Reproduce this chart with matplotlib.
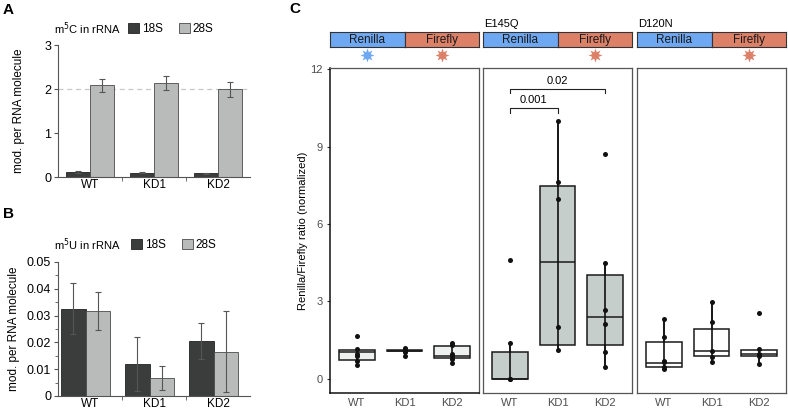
import matplotlib
matplotlib.use("Agg")
import matplotlib.pyplot as plt
from matplotlib.patches import Patch
import numpy as np

plt.rcParams['font.family'] = ['Liberation Sans', 'DejaVu Sans']

# ---------------- data ----------------
groups = ["WT", "KD1", "KD2"]
m5c_18s = [0.12, 0.10, 0.08]
m5c_18s_err = [0.02, 0.02, 0.015]
m5c_28s = [2.08, 2.13, 1.99]
m5c_28s_err = [0.14, 0.16, 0.18]

m5u_18s = [0.0326, 0.0121, 0.0205]
m5u_18s_err = [0.0095, 0.0101, 0.0067]
m5u_28s = [0.0317, 0.0067, 0.0166]
m5u_28s_err = [0.0071, 0.0046, 0.0150]

panel_titles = ["", "E145Q", "D120N"]
# box statistics per panel: (q1, median, q3, whisker low, whisker high)
box_q1 = [[0.74, 1.06, 0.80], [0.00, 1.33, 1.33], [0.44, 0.87, 0.87]]
box_med = [[1.03, 1.08, 0.90], [0.00, 4.53, 2.41], [0.61, 1.07, 0.98]]
box_q3 = [[1.11, 1.13, 1.27], [1.04, 7.49, 4.04], [1.42, 1.94, 1.11]]
box_lo = [[0.52, 0.90, 0.61], [0.00, 1.10, 0.44], [0.38, 0.61, 0.59]]
box_hi = [[1.11, 1.20, 1.40], [1.40, 10.00, 4.50], [2.33, 2.99, 1.16]]
points = [
    [[1.66, 1.16, 0.98, 0.90, 0.68, 0.52],
     [1.20, 1.15, 1.10, 1.08, 1.05, 0.90],
     [1.40, 1.30, 0.98, 0.87, 0.77, 0.61]],
    [[4.59, 1.40, 0.00, 0.00],
     [10.00, 7.63, 6.98, 2.01, 1.10],
     [8.70, 4.50, 2.67, 2.14, 1.04, 0.44]],
    [[2.33, 1.63, 0.70, 0.64, 0.46, 0.38],
     [2.99, 2.20, 1.07, 0.83, 0.64],
     [2.54, 1.16, 0.98, 0.90, 0.59]],
]
box_colors = ["#eef0ef", "#c5cecb", "#ffffff"]
stars = [["#6fa8f2", "#dd8068"], [None, "#dd8068"], [None, "#dd8068"]]
pvals = ["0.001", "0.02"]
pval_pairs = [(1, 2), (1, 3)]
pval_y = [10.50, 11.25]

# ---------------- figure ----------------
W, H = 788, 409
fig = plt.figure(figsize=(W / 100, H / 100), dpi=100)

def fx(px):
    return px / W

def fy(py):
    return 1 - py / H

c18 = "#3b3d3d"
c28 = "#b9bbbb"
edge = "#4a4a4a"
fs = 8

def bar_panel(ax, v18, e18, v28, e28, ylim, yticks, ytl, shift):
    x = np.arange(len(groups))
    w = 0.38
    ax.bar(x - w / 2 + shift, v18, w, color=c18, edgecolor="#222222", lw=0.6,
           yerr=e18, error_kw=dict(ecolor="#555555", lw=0.8, capsize=2.5, capthick=0.8), zorder=2)
    ax.bar(x + w / 2 + shift, v28, w, color=c28, edgecolor=edge, lw=0.6,
           yerr=e28, error_kw=dict(ecolor="#555555", lw=0.8, capsize=2.5, capthick=0.8), zorder=2)
    ax.set_xlim(-0.5, 2.5)
    ax.set_ylim(*ylim)
    ax.set_yticks(yticks)
    ax.set_yticklabels(ytl, fontsize=fs + 1)
    ax.set_xticks(x)
    ax.set_xticklabels(groups, fontsize=fs + 0.5)
    ax.tick_params(axis="x", length=0, pad=1.5)
    ax.set_xticks([0.5, 1.5], minor=True)
    ax.tick_params(axis="x", which="minor", length=3, color="#555555")
    ax.tick_params(axis="y", length=3, color="#555555", pad=2)
    for s in ["top", "right"]:
        ax.spines[s].set_visible(False)
    ax.spines["left"].set_color("#555555")
    ax.spines["bottom"].set_color("#555555")
    ax.set_ylabel("mod. per RNA molecule", fontsize=fs + 0.5, labelpad=4)

# Panel A
axA = fig.add_axes([fx(58), fy(177), fx(192), fy(45) - fy(177)])
bar_panel(axA, m5c_18s, m5c_18s_err, m5c_28s, m5c_28s_err, (0, 3), [0, 1, 2, 3],
          ["0", "1", "2", "3"], 0.0)
axA.axhline(2.0, color="#c8c8c8", ls=(0, (4, 3)), lw=0.9, zorder=1)
axA.yaxis.set_label_coords(-0.17, 0.5)

# Panel B
axB = fig.add_axes([fx(58), fy(396), fx(192), fy(262) - fy(396)])
bar_panel(axB, m5u_18s, m5u_18s_err, m5u_28s, m5u_28s_err, (0, 0.05),
          [0, 0.01, 0.02, 0.03, 0.04, 0.05],
          ["0", "0.01", "0.02", "0.03", "0.04", "0.05"], -0.07)
axB.set_yticks(np.arange(0.005, 0.05, 0.01), minor=True)
axB.tick_params(axis="y", which="minor", length=2, color="#555555")
axB.yaxis.set_label_coords(-0.20, 0.5)

# legends for A and B
for ytop, lab, lx in [(29, "m$^5$C in rRNA", 128), (245, "m$^5$U in rRNA", 131)]:
    fig.text(fx(54), fy(ytop), lab, fontsize=fs, va="center", ha="left")
    handles = [Patch(facecolor=c18, edgecolor="#222222", lw=0.6, label="18S"),
               Patch(facecolor=c28, edgecolor=edge, lw=0.6, label="28S")]
    fig.legend(handles=handles, loc="center left", bbox_to_anchor=(fx(lx), fy(ytop)),
               ncol=2, frameon=False, fontsize=fs + 0.5, handlelength=0.9, handleheight=0.9,
               handletextpad=0.25, columnspacing=1.4, borderaxespad=0, borderpad=0)

# Panel labels
fig.text(fx(3), fy(10), "A", fontsize=11, fontweight="bold", va="center")
fig.text(fx(3), fy(214), "B", fontsize=11, fontweight="bold", va="center")
fig.text(fx(289), fy(9), "C", fontsize=11, fontweight="bold", va="center")

# Panel C
lefts = [330, 483, 637]
pw = 149
for i in range(3):
    ax = fig.add_axes([fx(lefts[i]), fy(393), fx(pw), fy(68) - fy(393)])
    pos = [1, 2, 3]
    stats = []
    for j in range(3):
        stats.append(dict(q1=box_q1[i][j], med=box_med[i][j], q3=box_q3[i][j],
                          whislo=box_lo[i][j], whishi=box_hi[i][j], fliers=[]))
    ax.bxp(stats, positions=pos, widths=0.75, patch_artist=True, showfliers=False,
           showcaps=False,
           boxprops=dict(facecolor=box_colors[i], edgecolor="#1a1a1a", lw=1.1),
           medianprops=dict(color="#1a1a1a", lw=1.1),
           whiskerprops=dict(color="#1a1a1a", lw=1.1))
    for j in range(3):
        ax.vlines(pos[j], box_lo[i][j], box_hi[i][j], color="#111111", lw=1.2, zorder=3)
        pts = points[i][j]
        ax.scatter([pos[j]] * len(pts), pts, s=13, color="#111111", zorder=4, lw=0)
    ax.set_xlim(0.43, 3.57)
    ax.set_ylim(-0.55, 12.05)
    ax.set_xticks(pos)
    ax.set_xticklabels(groups, fontsize=fs, color="#4d4d4d")
    ax.tick_params(axis="x", length=0, pad=3.5)
    for s in ax.spines.values():
        s.set_color("#555555")
        s.set_linewidth(0.9)
    if i == 0:
        ax.set_yticks([0, 3, 6, 9, 12])
        ax.set_yticklabels(["0", "3", "6", "9", "12"], fontsize=fs, color="#4d4d4d")
        ax.tick_params(axis="y", length=2, color="#333333", pad=3)
        ax.spines["left"].set_color("#111111")
        ax.spines["bottom"].set_color("#111111")
        ax.spines["left"].set_linewidth(1.1)
        ax.spines["bottom"].set_linewidth(1.1)
        ax.set_ylabel("Renilla/Firefly ratio (normalized)", fontsize=fs, labelpad=2)
    else:
        ax.set_yticks([])
    if i == 1:
        for (a, b), y, t in zip(pval_pairs, pval_y, pvals):
            ax.plot([a, a, b, b], [y - 0.18, y, y, y - 0.18], color="#222222", lw=0.8)
            ax.text((a + b) / 2, y + 0.12, t, ha="center", va="bottom", fontsize=fs)
    # strip
    sw = pw / 2
    for k, (lab, col) in enumerate([("Renilla", "#6fa8f2"), ("Firefly", "#dd8068")]):
        sax = fig.add_axes([fx(lefts[i] + k * sw), fy(47), fx(sw), fy(32) - fy(47)])
        sax.set_facecolor(col)
        sax.set_xticks([]); sax.set_yticks([])
        for s in sax.spines.values():
            s.set_color("#333333"); s.set_linewidth(0.8)
        sax.text(0.5, 0.45, lab, ha="center", va="center", fontsize=fs + 0.5,
                 color="#1a1a1a", transform=sax.transAxes)
        if stars[i][k]:
            fig.add_artist(plt.Line2D([fx(lefts[i] + k * sw + sw / 2)], [fy(55)],
                                      marker=(8, 1, 0), markersize=10, color=stars[i][k],
                                      markeredgewidth=0, transform=fig.transFigure))
    if panel_titles[i]:
        fig.text(fx(lefts[i] + 1), fy(24), panel_titles[i], fontsize=fs, ha="left", va="center")

fig.savefig("out.png", dpi=100)
